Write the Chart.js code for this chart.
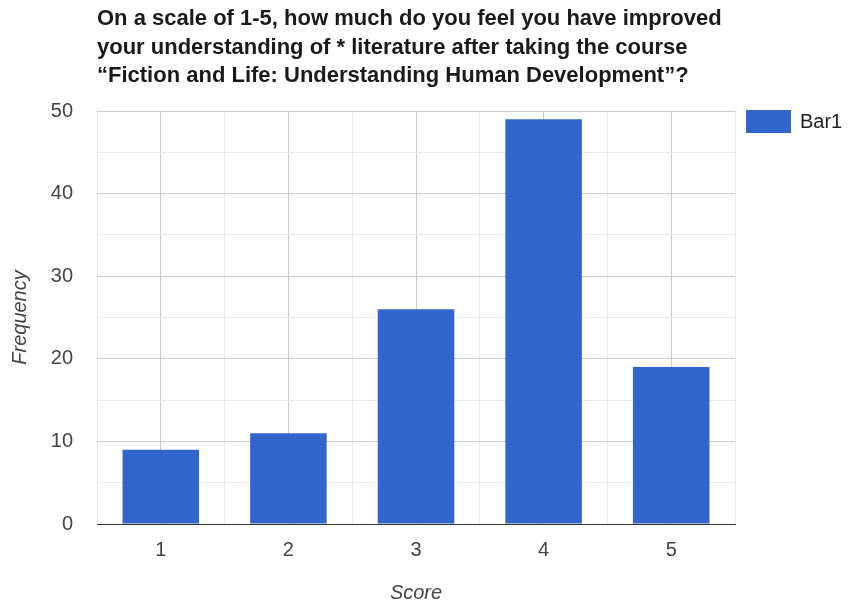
<!DOCTYPE html>
<html>
<head>
<meta charset="utf-8">
<script src="https://cdn.jsdelivr.net/npm/chart.js@4.4.0/dist/chart.umd.min.js"></script>
<style>
  body { margin: 0; background: #fff; }
  canvas { display: block; }
</style>
</head>
<body>
<canvas id="score-chart" width="851" height="608"></canvas>
<script>
// values
const scores = [1, 2, 3, 4, 5];
const frequency = [9, 11, 26, 49, 19];
const seriesName = "Bar1";
const titleLines = [
  "On a scale of 1-5, how much do you feel you have improved",
  "your understanding of * literature after taking the course",
  "\u201cFiction and Life: Understanding Human Development\u201d?",
];

const FONT = "'Liberation Sans', Arial, sans-serif";
const BAR_COLOR = "#3366CC";

// title and legend are drawn by hand so they sit where the original has them
const titleAndLegend = {
  id: "titleAndLegend",
  afterDraw(chart) {
    const { ctx, chartArea } = chart;
    ctx.save();
    ctx.fillStyle = "#1a1a1a";
    ctx.font = "bold 22px " + FONT;
    ctx.textAlign = "left";
    ctx.textBaseline = "middle";
    titleLines.forEach((line, i) => {
      ctx.fillText(line, chartArea.left, 19 + i * 28.5);
    });

    const boxX = chartArea.right + 11;
    const boxY = chartArea.top - 1;
    ctx.fillStyle = BAR_COLOR;
    ctx.fillRect(boxX, boxY, 45, 23);
    ctx.fillStyle = "#222";
    ctx.font = "20px " + FONT;
    ctx.fillText(chart.data.datasets[0].label, boxX + 54, boxY + 12);
    ctx.restore();
  },
};

new Chart(document.getElementById("score-chart"), {
  type: "bar",
  data: {
    datasets: [
      {
        label: seriesName,
        data: scores.map((s, i) => ({ x: s, y: frequency[i] })),
        backgroundColor: BAR_COLOR,
        borderWidth: 0,
        // ticks every half step, so 1.2 of that spacing = 0.6 of a category
        barPercentage: 1.2,
        categoryPercentage: 1,
      },
    ],
  },
  options: {
    responsive: false,
    animation: false,
    layout: { padding: { top: 111, right: 116, bottom: 0, left: 0 } },
    plugins: {
      legend: { display: false },
      title: { display: false },
      tooltip: { enabled: false },
    },
    scales: {
      x: {
        type: "linear",
        min: 0.5,
        max: 5.5,
        offset: false,
        afterFit: (scale) => { scale.height = 84; },
        ticks: {
          stepSize: 0.5,
          autoSkip: false,
          maxRotation: 0,
          padding: 14,
          color: "#444",
          font: { family: FONT, size: 20 },
          callback: (v) => (Number.isInteger(v) ? String(v) : ""),
        },
        grid: {
          offset: false,
          drawTicks: false,
          color: (c) => (c.tick && Number.isInteger(c.tick.value) ? "#cccccc" : "#ebebeb"),
        },
        border: { color: "#333", width: 1 },
        title: {
          display: true,
          text: "Score",
          color: "#444",
          font: { family: FONT, size: 20, style: "italic" },
          padding: { top: 0, bottom: 3 },
        },
      },
      y: {
        min: 0,
        max: 50,
        afterFit: (scale) => { scale.width = 97; },
        ticks: {
          stepSize: 5,
          autoSkip: false,
          padding: 24,
          color: "#444",
          font: { family: FONT, size: 20 },
          callback: (v) => (v % 10 === 0 ? String(v) : ""),
        },
        grid: {
          drawTicks: false,
          color: (c) => (c.tick && c.tick.value % 10 === 0 ? "#cccccc" : "#ebebeb"),
        },
        border: { display: false },
        title: {
          display: true,
          text: "Frequency",
          color: "#444",
          font: { family: FONT, size: 20, style: "italic" },
          padding: { top: 8, bottom: 0 },
        },
      },
    },
  },
  plugins: [titleAndLegend],
});
</script>
</body>
</html>
